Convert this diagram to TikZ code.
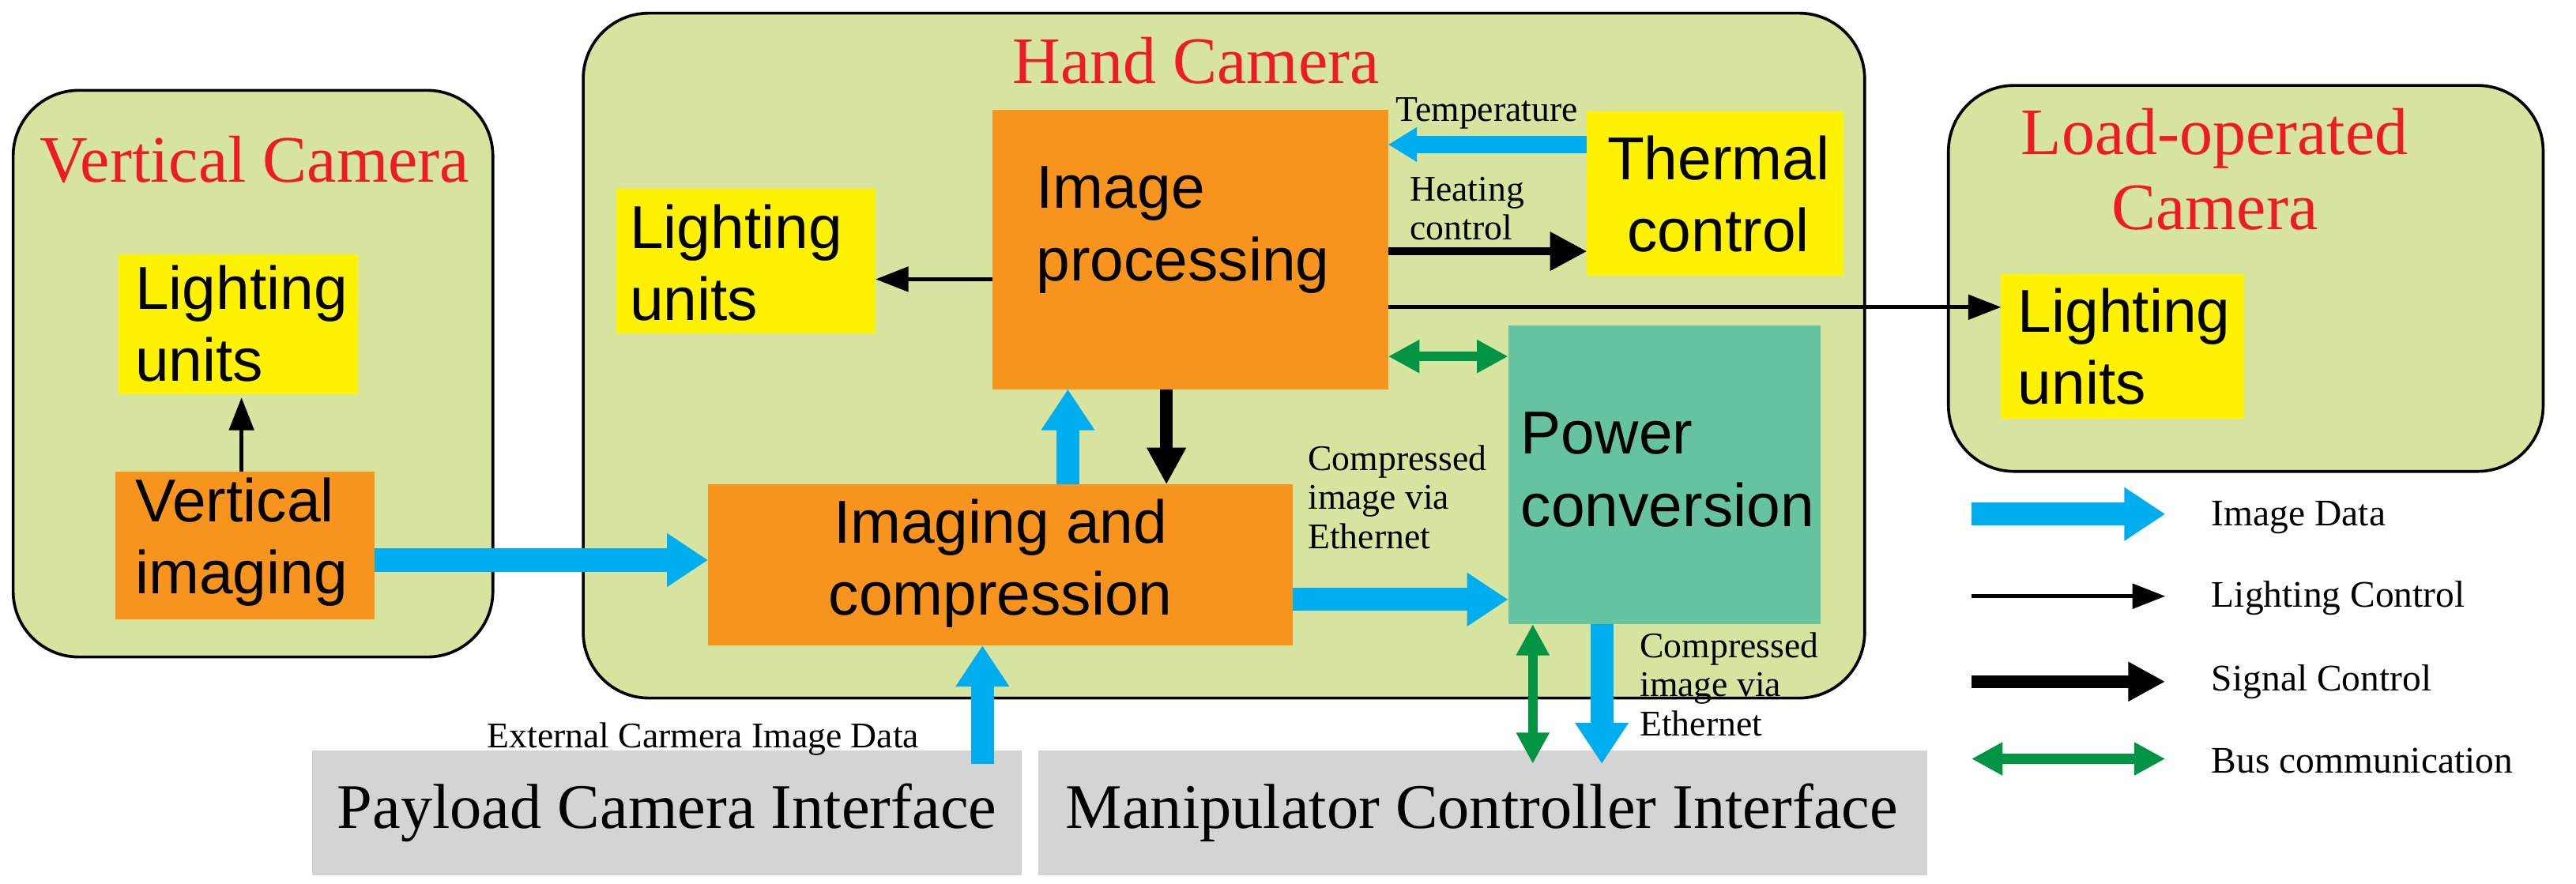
\documentclass[tikz,border=0pt]{standalone}
\usepackage{fontspec}
\setmainfont{Liberation Serif}
\newfontfamily\sansf{Liberation Sans}
\usetikzlibrary{arrows.meta}
\definecolor{bg}{HTML}{D7E4A0}
\definecolor{org}{HTML}{F7941D}
\definecolor{yel}{HTML}{FFF200}
\definecolor{tea}{HTML}{66C3A0}
\definecolor{gry}{HTML}{D4D4D4}
\definecolor{redt}{HTML}{ED1C24}
\definecolor{blu}{HTML}{00AEEF}
\definecolor{grn}{HTML}{009444}
\begin{document}
\begin{tikzpicture}[x=0.02cm,y=-0.02cm,
 big/.style={font=\sansf\fontsize{21}{25}\selectfont,align=center},
 iface/.style={font=\fontsize{22}{25}\selectfont},
 small/.style={font=\fontsize{12.5}{13.5}\selectfont,align=left},
 leg/.style={font=\fontsize{13}{15}\selectfont,anchor=west},
 grp/.style={draw=black,line width=1pt,rounded corners=0.8cm,fill=bg},
 title/.style={text=redt,font=\fontsize{23}{26}\selectfont,align=center},
 img/.style={blu,line width=0.28cm,-{Triangle[width=0.62cm,length=0.5cm]}},
 lc/.style={black,line width=1.3pt,-{Triangle[width=0.3cm,length=0.4cm]}},
 sc/.style={black,line width=0.15cm,-{Triangle[width=0.45cm,length=0.45cm]}},
 bus/.style={grn,line width=0.12cm,{Triangle[width=0.38cm,length=0.38cm]}-{Triangle[width=0.38cm,length=0.38cm]}}]
\useasboundingbox (0,0) rectangle (1568,538);
% groups
\draw[grp] (8,55) rectangle (300,400);
\node[title] (tv) at (155,97) {Vertical Camera};
\draw[grp] (355,8) rectangle (1135,425);
\node[title] (th) at (728,37) {Hand Camera};
\draw[grp] (1186,52) rectangle (1548,287);
\node[title] (tl) at (1348,103) {Load-operated\\Camera};
% boxes
\fill[yel] (72,155) rectangle (218,240); \node[big,align=left] (lu1) at (147,197) {Lighting\\units};
\fill[org] (70,287) rectangle (228,377); \node[big,align=left] (vi) at (147,330) {Vertical\\imaging};
\fill[org] (604,67) rectangle (845,237); \node[big,align=left] (ip) at (720,140) {Image\\processing};
\fill[yel] (375,115) rectangle (533,203); \node[big,align=left] (lu2) at (448,160) {Lighting\\units};
\fill[yel] (966,68) rectangle (1122,168); \node[big] (tc) at (1046,118) {Thermal\\control};
\fill[org] (431,295) rectangle (787,393); \node[big] (ic) at (609,343) {Imaging and\\compression};
\fill[tea] (918,198) rectangle (1108,380); \node[big,align=left] (pc) at (1015,286) {Power\\conversion};
\fill[yel] (1218,167) rectangle (1366,255); \node[big,align=left] (lu3) at (1293,211) {Lighting\\units};
\fill[gry] (190,457) rectangle (622,533); \node[iface] (pci) at (406,495) {Payload Camera Interface};
\fill[gry] (632,457) rectangle (1173,533); \node[iface] (mci) at (902,495) {Manipulator Controller Interface};
% arrows
\draw[lc] (147,287) -- (147,242);
\draw[img] (228,341) -- (431,341);
\draw[img] (650,295) -- (650,237);
\draw[sc] (710,237) -- (710,295);
\draw[lc] (604,170) -- (533,170);
\draw[blu,line width=0.22cm,-{Triangle[width=0.4cm,length=0.35cm]}] (966,88) -- (845,88);
\node[small] (tl1) at (905,69) {Temperature};
\draw[sc,line width=0.1cm] (845,153) -- (966,153);
\node[small] (hc) at (893,127) {Heating\\control};
\draw[lc] (845,187) -- (1218,187);
\draw[bus] (845,217) -- (918,217);
\draw[img] (787,365) -- (918,365);
\node[small,anchor=north west] (ce1) at (790,265) {Compressed\\image via\\Ethernet};
\draw[img] (598,465) -- (598,393);
\node[small] (ext) at (428,450) {External Carmera Image Data};
\draw[bus] (933,380) -- (933,465);
\draw[img] (975,380) -- (975,465);
\node[small,anchor=north west] (ce2) at (992,379) {Compressed\\image via\\Ethernet};
% legend
\draw[img] (1200,313) -- (1318,313); \node[leg] (l1) at (1340,315) {Image Data};
\draw[lc] (1200,363) -- (1318,363); \node[leg] (l2) at (1340,364) {Lighting Control};
\draw[sc] (1200,415) -- (1318,415); \node[leg] (l3) at (1340,415) {Signal Control};
\draw[bus] (1200,462) -- (1318,462); \node[leg] (l4) at (1340,463) {Bus communication};
\end{tikzpicture}
\end{document}
